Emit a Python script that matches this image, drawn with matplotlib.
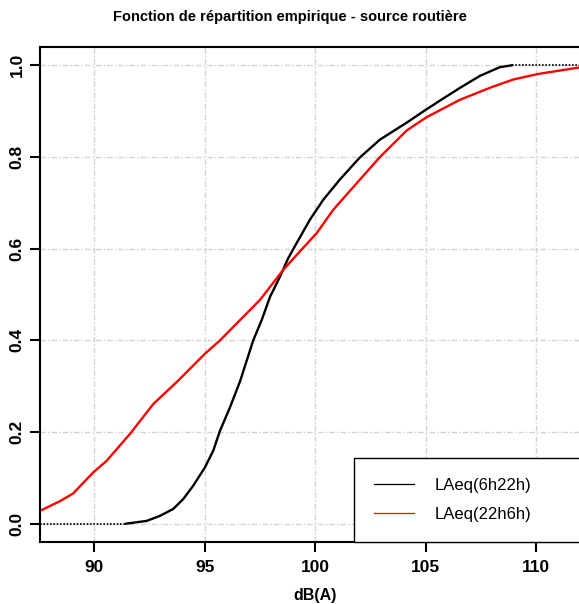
import matplotlib
matplotlib.use('Agg')
import matplotlib.pyplot as plt

plt.rcParams['font.family'] = ['Liberation Sans', 'DejaVu Sans']

# ECDF LAeq(6h22h)
day_db = [91.45, 92.38, 92.98, 93.58, 94.04, 94.49, 95.02, 95.39, 95.7, 96.15, 96.6,
          97.2, 97.58, 97.96, 98.41, 98.78, 99.16, 99.76, 100.37, 101.12, 102.02,
          102.93, 104.14, 105.0, 105.64, 106.55, 107.45, 108.35, 108.88]
day_f = [0.0, 0.006, 0.017, 0.032, 0.054, 0.083, 0.123, 0.159, 0.203, 0.254, 0.31,
         0.40, 0.444, 0.495, 0.539, 0.579, 0.612, 0.663, 0.707, 0.751, 0.799,
         0.838, 0.875, 0.903, 0.923, 0.951, 0.977, 0.996, 1.0]

# ECDF LAeq(22h6h)
night_db = [87.2, 87.56, 88.46, 89.06, 89.97, 90.57, 91.63, 92.68, 93.74, 95.02, 95.7,
            96.6, 97.5, 98.56, 99.31, 100.07, 100.82, 101.88, 102.93, 104.14, 105.04,
            105.64, 106.55, 107.9, 108.95, 110.06, 111.9, 112.5]
night_f = [0.018, 0.028, 0.049, 0.066, 0.112, 0.137, 0.196, 0.261, 0.309, 0.371, 0.40,
           0.444, 0.488, 0.554, 0.594, 0.634, 0.685, 0.743, 0.80, 0.858, 0.887,
           0.902, 0.925, 0.951, 0.969, 0.981, 0.995, 0.998]

labels = ['LAeq(6h22h)', 'LAeq(22h6h)']
xticks = [90, 95, 100, 105, 110]
yticks = [0.0, 0.2, 0.4, 0.6, 0.8, 1.0]

W, H = 579, 604
fig = plt.figure(figsize=(W / 100, H / 100), dpi=100)
# axes runs past the right edge of the image, as in the cropped original
left, right, top, bottom = 40, 590, 47, 542
ax = fig.add_axes([left / W, 1 - bottom / H, (right - left) / W, (bottom - top) / H])
xmin = 87.56
xmax = xmin + (right - left) / 22.12
ax.set_xlim(xmin, xmax)
ax.set_ylim(-0.04, 1.04)

grid_style = dict(color='#d3d3d3', lw=1.0, ls=(0, (4, 1.5, 1, 1.5)), zorder=0)
for x in xticks:
    ax.axvline(x, **grid_style)
for y in yticks:
    ax.axhline(y, **grid_style)

# ecdf tails
ax.plot([xmin, day_db[0]], [0, 0], color='black', lw=1.2, ls=(0, (1, 1)))
ax.plot([day_db[-1], xmax], [1, 1], color='black', lw=1.2, ls=(0, (1, 1)))

ax.plot(day_db, day_f, color='black', lw=1.7, solid_joinstyle='round')
ax.plot(night_db, night_f, color='red', lw=1.7, solid_joinstyle='round')

ax.set_xticks(xticks)
ax.set_yticks(yticks)
ax.set_xticklabels([str(v) for v in xticks], fontsize=12.5, fontweight='bold')
ax.set_yticklabels(['%.1f' % v for v in yticks], fontsize=12.5, fontweight='bold',
                   rotation=90, va='center')
ax.tick_params(axis='both', direction='out', length=7, width=1.5)
ax.tick_params(axis='x', pad=6)
ax.tick_params(axis='y', pad=4)
for s in ax.spines.values():
    s.set_linewidth(1.5)

ax.set_xlabel('dB(A)', fontsize=11.5, fontweight='bold', labelpad=9)
fig.text(0.5, 1 - 17 / H, 'Fonction de répartition empirique - source routière',
         ha='center', va='center', fontsize=10.5, fontweight='bold')

h1 = plt.Line2D([], [], color='black', lw=0.9)
h2 = plt.Line2D([], [], color='red', lw=0.9)
lx = (354 - left) / (right - left)
leg = ax.legend([h1, h2], labels, loc='lower left', bbox_to_anchor=(lx, 0, 1.2, 0.17),
                mode='expand', fontsize=12, frameon=True, fancybox=False,
                handlelength=2.4, handletextpad=1.25, labelspacing=0.85,
                borderpad=1.2, borderaxespad=0)
leg.get_frame().set_edgecolor('black')
leg.get_frame().set_linewidth(1.0)
leg.get_frame().set_alpha(1)

fig.savefig('out.png', dpi=100)
